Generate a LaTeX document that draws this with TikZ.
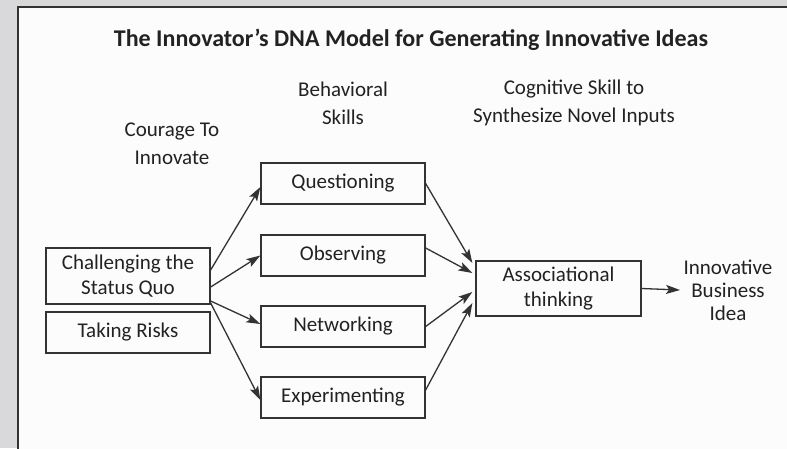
\documentclass[tikz,border=0pt]{standalone}
\usepackage{fontspec}
\setmainfont{Carlito}
\usetikzlibrary{arrows.meta,calc}
\definecolor{ink}{HTML}{222222}
\definecolor{wire}{HTML}{333333}
\definecolor{paper}{HTML}{FCFCFD}
\definecolor{margin}{HTML}{D9D9DC}
\begin{document}
\begin{tikzpicture}[x=1pt,y=-1pt,
  every node/.style={text=ink,font=\fontsize{21}{25}\selectfont},
  box/.style={draw=wire,line width=1.3pt,minimum width=164pt,inner sep=0pt,align=center},
  head/.style={align=center,font=\fontsize{21}{28}\selectfont},
  link/.style={draw=wire,line width=1.3pt,-{Stealth[length=14pt,width=9pt,inset=3pt]}}]
  % page and frame
  \useasboundingbox (0,0) rectangle (787,448);
  \fill[margin] (0,0) rectangle (787,448);
  \fill[paper] (18,7) rectangle (790,450);
  \draw[wire,line width=1.2pt] (18,452) -- (18,7) -- (790,7);
  % title
  \node[font=\bfseries\fontsize{24}{28}\selectfont] (title) at (411,40) {The Innovator's DNA Model for Generating Innovative Ideas};
  % column headings
  \node[head] (hcour) at (172,144) {Courage To\\Innovate};
  \node[head] (hbeh) at (343,103) {Behavioral\\Skills};
  \node[head] (hcog) at (574,103) {Cognitive Skill to\\Synthesize Novel Inputs};
  % courage boxes
  \node[box,minimum height=56pt] (ch) at (128,276) {Challenging the\\Status Quo};
  \node[box,minimum height=41pt] (tr) at (128,332.5) {Taking Risks};
  % behavioural skills
  \node[box,minimum height=41pt] (q) at (343,183.5) {Questioning};
  \node[box,minimum height=41pt] (o) at (343,255.5) {Observing};
  \node[box,minimum height=41pt] (n) at (343,326.5) {Networking};
  \node[box,minimum height=41pt] (e) at (343,397.5) {Experimenting};
  % cognitive skill and outcome
  \node[box,minimum width=165pt,minimum height=55pt] (a) at (558.5,288.5) {Associational\\thinking};
  \node[align=center,font=\fontsize{21}{23}\selectfont] (idea) at (728,290) {Innovative\\Business\\Idea};
  % connectors
  \draw[link] ($(ch.east)+(0,-6)$) -- ($(q.west)+(0,3.5)$);
  \draw[link] ($(ch.east)+(0,11)$) -- (o.west);
  \draw[link] ($(ch.east)+(0,25)$) -- ($(n.west)+(0,-2.5)$);
  \draw[link] ($(ch.east)+(0,27)$) -- ($(e.west)+(0,2.5)$);
  \draw[link] (q.east) -- ($(a.west)+(-3,-25.5)$);
  \draw[link] ($(o.east)+(0,-7.5)$) -- ($(a.west)+(-3,-15.5)$);
  \draw[link] (n.east) -- ($(a.west)+(-3,3.5)$);
  \draw[link] ($(e.east)+(0,-7.5)$) -- ($(a.west)+(-3,14.5)$);
  \draw[link] (a.east) -- (idea.west);
\end{tikzpicture}
\end{document}
